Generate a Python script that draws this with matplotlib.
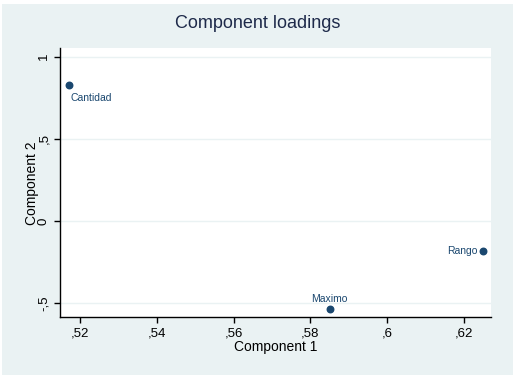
import matplotlib
matplotlib.use("Agg")
import matplotlib.pyplot as plt
from matplotlib.patches import Rectangle
from matplotlib.ticker import FixedLocator, FixedFormatter

plt.rcParams['font.family'] = ['Liberation Sans', 'DejaVu Sans']

# loadings
names = ["Cantidad", "Maximo", "Rango"]
comp1 = [0.5171, 0.5850, 0.6249]
comp2 = [0.827, -0.538, -0.181]

xticks = [0.52, 0.54, 0.56, 0.58, 0.60, 0.62]
xticklabels = [",52", ",54", ",56", ",58", ",6", ",62"]
yticks = [-0.5, 0, 0.5, 1]
yticklabels = ["-,5", "0", ",5", "1"]

navy = "#1a476f"
bg = "#eaf2f3"

W, H = 520, 379
fig = plt.figure(figsize=(W / 100, H / 100), dpi=100, facecolor="white")
fig.patches.append(Rectangle((2 / W, 1 - 375 / H), 511 / W, 371 / H,
                             transform=fig.transFigure, facecolor=bg,
                             edgecolor="none", zorder=-1))

ax = fig.add_axes([60.3 / W, 1 - 317.3 / H, (491 - 60.3) / W, (317.3 - 48.3) / H])
ax.set_facecolor("white")
ax.scatter(comp1, comp2, s=22, color=navy, zorder=3)

# label placement like stata mlabpos
offsets = {"Cantidad": (1, -6, "left", "top"),
           "Maximo": (0, 4, "center", "bottom"),
           "Rango": (-4, 0, "right", "center")}
for n, x, y in zip(names, comp1, comp2):
    dx, dy, ha, va = offsets[n]
    ax.annotate(n, (x, y), xytext=(dx, dy), textcoords="offset points",
                ha=ha, va=va, fontsize=7.5, color=navy)

ax.set_xlim(0.51487, 0.62703)
ax.set_ylim(-0.587, 1.0512)
ax.xaxis.set_major_locator(FixedLocator(xticks))
ax.xaxis.set_major_formatter(FixedFormatter(xticklabels))
ax.yaxis.set_major_locator(FixedLocator(yticks))
ax.yaxis.set_major_formatter(FixedFormatter(yticklabels))
ax.tick_params(axis="both", direction="out", length=4, width=1, labelsize=9.5, colors="black")
ax.tick_params(axis="x", pad=3)
for lab in ax.get_yticklabels():
    lab.set_rotation(90)
    lab.set_va("center")
ax.grid(axis="y", color=bg, linewidth=1)
ax.set_axisbelow(True)
for s in ["top", "right"]:
    ax.spines[s].set_visible(False)
for s in ["left", "bottom"]:
    ax.spines[s].set_linewidth(1)

ax.set_xlabel("Component 1", fontsize=10, labelpad=0.5)
ax.set_ylabel("Component 2", fontsize=10, labelpad=-1)
fig.text(258 / W, 1 - 23.5 / H, "Component loadings", ha="center", va="center",
         fontsize=13, color="#1e2a4a")

fig.savefig("out.png", dpi=100, facecolor="white")
